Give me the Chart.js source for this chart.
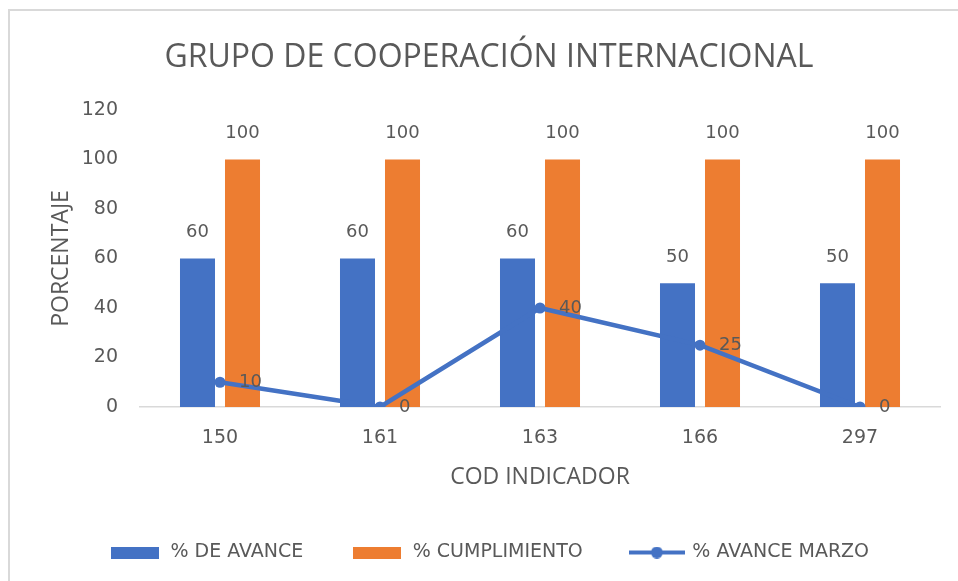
<!DOCTYPE html>
<html>
<head>
<meta charset="utf-8">
<script src="https://cdn.jsdelivr.net/npm/chart.js@4"></script>
<style>
  html, body { margin: 0; padding: 0; background: #fff; overflow: hidden; }
  #frame { position: absolute; left: 8px; top: 9px; width: 980px; height: 600px;
           border-left: 2px solid #d9d9d9; border-top: 2px solid #d9d9d9; }
  #chart { position: absolute; left: 0; top: 0; }
</style>
</head>
<body>
<div id="frame"></div>
<canvas id="chart" width="958" height="581"></canvas>
<script>
'use strict';

const codigos = ['150', '161', '163', '166', '297'];
const avance = [60, 60, 60, 50, 50];
const cumplimiento = [100, 100, 100, 100, 100];
const avanceMarzo = [10, 0, 40, 25, 0];

const BLUE = '#4472C4';
const ORANGE = '#ED7D31';
const TEXT = '#595959';
const TITLE_FONT = "'Open Sans', sans-serif";
const FONT = "'DejaVu Sans', sans-serif";

// legend swatches: plain bars and a line with a dot
const makeSwatch = (color, withLine) => {
  const c = document.createElement('canvas');
  c.width = withLine ? 56 : 48;
  c.height = 12;
  const ctx = c.getContext('2d');
  ctx.fillStyle = color;
  if (withLine) {
    ctx.fillRect(0, 4, 56, 4);
    ctx.beginPath();
    ctx.arc(28, 6, 6, 0, Math.PI * 2);
    ctx.fill();
  } else {
    ctx.fillRect(0, 0, 48, 12);
  }
  return c;
};

// value labels above bars and to the right of line points
const valueLabels = {
  id: 'valueLabels',
  afterDatasetsDraw(chart) {
    const ctx = chart.ctx;
    ctx.save();
    ctx.font = `18px ${FONT}`;
    ctx.fillStyle = TEXT;
    ctx.textBaseline = 'middle';
    chart.data.datasets.forEach((ds, i) => {
      const meta = chart.getDatasetMeta(i);
      meta.data.forEach((el, j) => {
        if (ds.type === 'line') {
          ctx.textAlign = 'left';
          ctx.fillText(ds.data[j], el.x + 19, el.y);
        } else {
          ctx.textAlign = 'center';
          ctx.fillText(ds.data[j], el.x, el.y - 26);
        }
      });
    });
    ctx.restore();
  }
};

new Chart(document.getElementById('chart').getContext('2d'), {
  type: 'bar',
  data: {
    labels: codigos,
    datasets: [
      {
        label: '% DE AVANCE',
        data: avance,
        backgroundColor: BLUE,
        order: 1,
        categoryPercentage: 0.5625,
        barPercentage: 0.778,
      },
      {
        label: '% CUMPLIMIENTO',
        data: cumplimiento,
        backgroundColor: ORANGE,
        order: 1,
        categoryPercentage: 0.5625,
        barPercentage: 0.778,
      },
      {
        type: 'line',
        label: '% AVANCE MARZO',
        data: avanceMarzo,
        borderColor: BLUE,
        backgroundColor: BLUE,
        borderWidth: 4.5,
        pointRadius: 5.5,
        pointHoverRadius: 5.5,
        pointBorderWidth: 0,
        tension: 0,
        order: 0,
      },
    ],
  },
  options: {
    responsive: false,
    animation: false,
    layout: { padding: { left: 20, right: 0, top: 0, bottom: 9 } },
    plugins: {
      tooltip: { enabled: false },
      title: {
        display: true,
        text: 'GRUPO DE COOPERACIÓN INTERNACIONAL',
        color: TEXT,
        font: { family: TITLE_FONT, size: 32, weight: 'normal' },
        padding: { top: 39, bottom: 32.6 },
      },
      legend: {
        position: 'bottom',
        labels: {
          color: TEXT,
          font: { family: FONT, size: 19 },
          usePointStyle: true,
          pointStyleWidth: 52,
          padding: 48,
          generateLabels: chart =>
            chart.data.datasets.map((ds, i) => ({
              text: ds.label,
              fontColor: TEXT,
              pointStyle: makeSwatch(ds.backgroundColor, ds.type === 'line'),
              datasetIndex: i,
              hidden: false,
              lineWidth: 0,
            })),
        },
      },
    },
    scales: {
      x: {
        grid: { display: false },
        border: { display: true, color: '#d9d9d9', width: 1.5 },
        ticks: { color: TEXT, font: { family: FONT, size: 19 }, padding: 12 },
        title: {
          display: true,
          text: 'COD INDICADOR',
          color: TEXT,
          font: { family: TITLE_FONT, size: 23 },
          padding: { top: 0, bottom: 4 },
        },
        afterFit: scale => { scale.height = 88; },
      },
      y: {
        min: 0,
        max: 120,
        ticks: { stepSize: 20, color: TEXT, font: { family: FONT, size: 19 }, padding: 14 },
        grid: { display: false },
        border: { display: false },
        title: {
          display: true,
          text: 'PORCENTAJE',
          color: TEXT,
          font: { family: TITLE_FONT, size: 23 },
          padding: { top: 28, bottom: 0 },
        },
        afterFit: scale => { scale.width = 120; },
      },
      // empty right-hand strip so the plot ends where the reference does
      yRight: {
        position: 'right',
        display: true,
        ticks: { display: false },
        grid: { display: false },
        border: { display: false },
        afterFit: scale => { scale.width = 18; },
      },
    },
  },
  plugins: [valueLabels],
});
</script>
</body>
</html>
